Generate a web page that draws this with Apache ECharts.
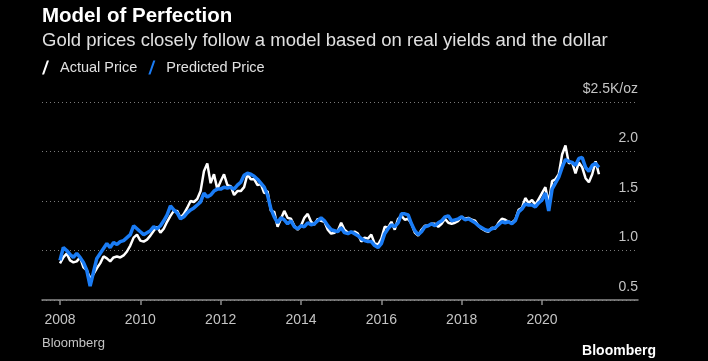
<!DOCTYPE html>
<html>
<head>
<meta charset="utf-8">
<script src="https://cdn.jsdelivr.net/npm/echarts@6/dist/echarts.min.js"></script>
<style>
html,body{margin:0;padding:0;background:#000;}
#chart{width:708px;height:361px;}
</style>
</head>
<body>
<div id="chart"></div>
<script>
// Monthly observations Jan 2008 .. Jun 2021 (as year, month)
const dates = [];
for (let y = 2008; y <= 2021; y++) {
  for (let m = 1; m <= 12; m++) {
    if (y === 2021 && m > 6) break;
    dates.push([y, m]);
  }
}
// Actual gold price, $K/oz
const actualPrice = [
  0.87,0.93,0.97,0.90,0.88,0.89,0.93,0.83,0.80,0.72,0.76,0.82,
  0.87,0.94,0.92,0.89,0.93,0.94,0.93,0.95,0.99,1.05,1.13,1.16,
  1.10,1.09,1.11,1.15,1.20,1.24,1.18,1.22,1.29,1.35,1.40,1.40,
  1.33,1.37,1.43,1.50,1.49,1.52,1.60,1.80,1.88,1.68,1.77,1.62,
  1.70,1.77,1.66,1.65,1.56,1.60,1.60,1.64,1.77,1.72,1.72,1.66,
  1.67,1.58,1.60,1.40,1.39,1.24,1.32,1.40,1.33,1.32,1.25,1.21,
  1.25,1.33,1.37,1.29,1.26,1.32,1.30,1.29,1.21,1.17,1.18,1.20,
  1.28,1.21,1.18,1.18,1.19,1.17,1.09,1.13,1.12,1.16,1.07,1.06,
  1.12,1.24,1.23,1.29,1.21,1.32,1.35,1.31,1.32,1.27,1.18,1.15,
  1.21,1.25,1.25,1.27,1.27,1.24,1.27,1.32,1.28,1.27,1.28,1.30,
  1.34,1.32,1.33,1.31,1.30,1.25,1.22,1.20,1.19,1.23,1.22,1.28,
  1.32,1.31,1.29,1.28,1.31,1.41,1.43,1.53,1.48,1.51,1.46,1.52,
  1.58,1.64,1.48,1.70,1.72,1.77,1.97,2.06,1.88,1.89,1.78,1.89,
  1.84,1.73,1.69,1.77,1.90,1.77
];
// Model-predicted price, $K/oz
const predictedPrice = [
  0.90,1.03,1.00,0.96,0.93,0.97,0.93,0.88,0.80,0.64,0.78,0.92,
  0.97,1.02,1.07,1.03,1.08,1.06,1.09,1.10,1.13,1.16,1.25,1.22,
  1.19,1.16,1.18,1.20,1.24,1.22,1.25,1.30,1.36,1.45,1.41,1.38,
  1.32,1.34,1.38,1.41,1.43,1.46,1.49,1.58,1.54,1.56,1.60,1.62,
  1.62,1.64,1.63,1.64,1.62,1.66,1.69,1.76,1.78,1.77,1.75,1.72,
  1.68,1.64,1.56,1.42,1.34,1.28,1.33,1.31,1.27,1.30,1.24,1.22,
  1.25,1.24,1.28,1.26,1.27,1.30,1.33,1.30,1.25,1.21,1.20,1.19,
  1.23,1.18,1.17,1.19,1.17,1.15,1.12,1.10,1.09,1.09,1.05,1.03,
  1.07,1.17,1.22,1.26,1.24,1.28,1.37,1.37,1.36,1.27,1.20,1.16,
  1.19,1.24,1.25,1.27,1.25,1.28,1.30,1.34,1.35,1.30,1.31,1.32,
  1.34,1.31,1.32,1.30,1.28,1.25,1.23,1.21,1.20,1.22,1.23,1.26,
  1.29,1.28,1.29,1.27,1.30,1.39,1.42,1.47,1.46,1.46,1.44,1.48,
  1.51,1.58,1.40,1.62,1.68,1.74,1.84,1.92,1.90,1.89,1.86,1.93,
  1.94,1.84,1.80,1.86,1.88,1.84
];
const xTickYears = [2008, 2010, 2012, 2014, 2016, 2018, 2020];
const yTickValues = [0.5, 1.0, 1.5, 2.0, 2.5];
const yTickLabels = ['0.5', '1.0', '1.5', '2.0', '$2.5K/oz'];

const toYear = d => d[0] + (d[1] - 1) / 12;
const FONT = '"Liberation Sans", Arial, sans-serif';
const chart = echarts.init(document.getElementById('chart'), null, {renderer: 'canvas'});
chart.setOption({
  backgroundColor: '#000',
  animation: false,
  title: {
    text: 'Model of Perfection',
    subtext: 'Gold prices closely follow a model based on real yields and the dollar',
    left: 42, top: 6, padding: 0, itemGap: 4,
    textStyle: {color: '#fff', fontSize: 20.5, fontWeight: 'bold', fontFamily: FONT},
    subtextStyle: {color: '#e0e0e0', fontSize: 18.5, fontFamily: FONT}
  },
  legend: {
    left: 42, top: 60, padding: 0, itemGap: 11,
    itemWidth: 9, itemHeight: 14,
    textStyle: {color: '#e0e0e0', fontSize: 14.5, fontFamily: FONT, padding: [0, 0, 0, 5]},
    data: [
      {name: 'Actual Price', icon: 'path://M0,20 L7,0 L10,0 L3,20 Z', itemStyle: {color: '#ffffff'}},
      {name: 'Predicted Price', icon: 'path://M0,20 L7,0 L10,0 L3,20 Z', itemStyle: {color: '#1a7cf5'}}
    ]
  },
  grid: {left: 42, right: 70, top: 102, bottom: 61, containLabel: false},
  xAxis: {
    type: 'value',
    min: 2007.552, max: 2022.389,
    axisLine: {show: true, lineStyle: {color: '#8c8c8c', width: 1.5}},
    axisTick: {show: true, length: 5, lineStyle: {color: '#8c8c8c', width: 1.5},
      customValues: xTickYears},
    axisLabel: {color: '#c4c4c4', fontSize: 14, fontFamily: FONT, margin: 13,
      customValues: xTickYears,
      formatter: v => String(Math.round(v))},
    splitLine: {show: false}
  },
  yAxis: {
    type: 'value', position: 'right',
    min: 0.5, max: 2.5, interval: 0.5,
    axisLine: {show: false}, axisTick: {show: false},
    axisLabel: {
      inside: true, margin: 0, color: '#c4c4c4', fontSize: 14, fontFamily: FONT,
      verticalAlign: 'bottom', padding: [0, 0, 6, 0],
      formatter: v => {
        const i = yTickValues.findIndex(t => Math.abs(t - v) < 1e-9);
        return i >= 0 ? yTickLabels[i] : '';
      }
    },
    splitLine: {show: true, lineStyle: {color: '#7a7a7a', width: 1, type: [1, 3]}}
  },
  series: [
    {
      name: 'Actual Price', type: 'line', showSymbol: false, symbol: 'none',
      data: dates.map((d, i) => [toYear(d), actualPrice[i]]),
      lineStyle: {color: '#ffffff', width: 2.5}, itemStyle: {color: '#ffffff'}, z: 2
    },
    {
      name: 'Predicted Price', type: 'line', showSymbol: false, symbol: 'none',
      data: dates.map((d, i) => [toYear(d), predictedPrice[i]]),
      lineStyle: {color: '#1a7cf5', width: 3.5}, itemStyle: {color: '#1a7cf5'}, z: 3
    }
  ],
  graphic: [
    {type: 'text', left: 42, top: 337, style: {text: 'Bloomberg', fill: '#c4c4c4', fontSize: 13, fontFamily: FONT}},
    {type: 'text', right: 52, top: 344, style: {text: 'Bloomberg', fill: '#ffffff', fontSize: 14, fontWeight: 'bold', fontFamily: FONT}}
  ]
});
</script>
</body>
</html>
